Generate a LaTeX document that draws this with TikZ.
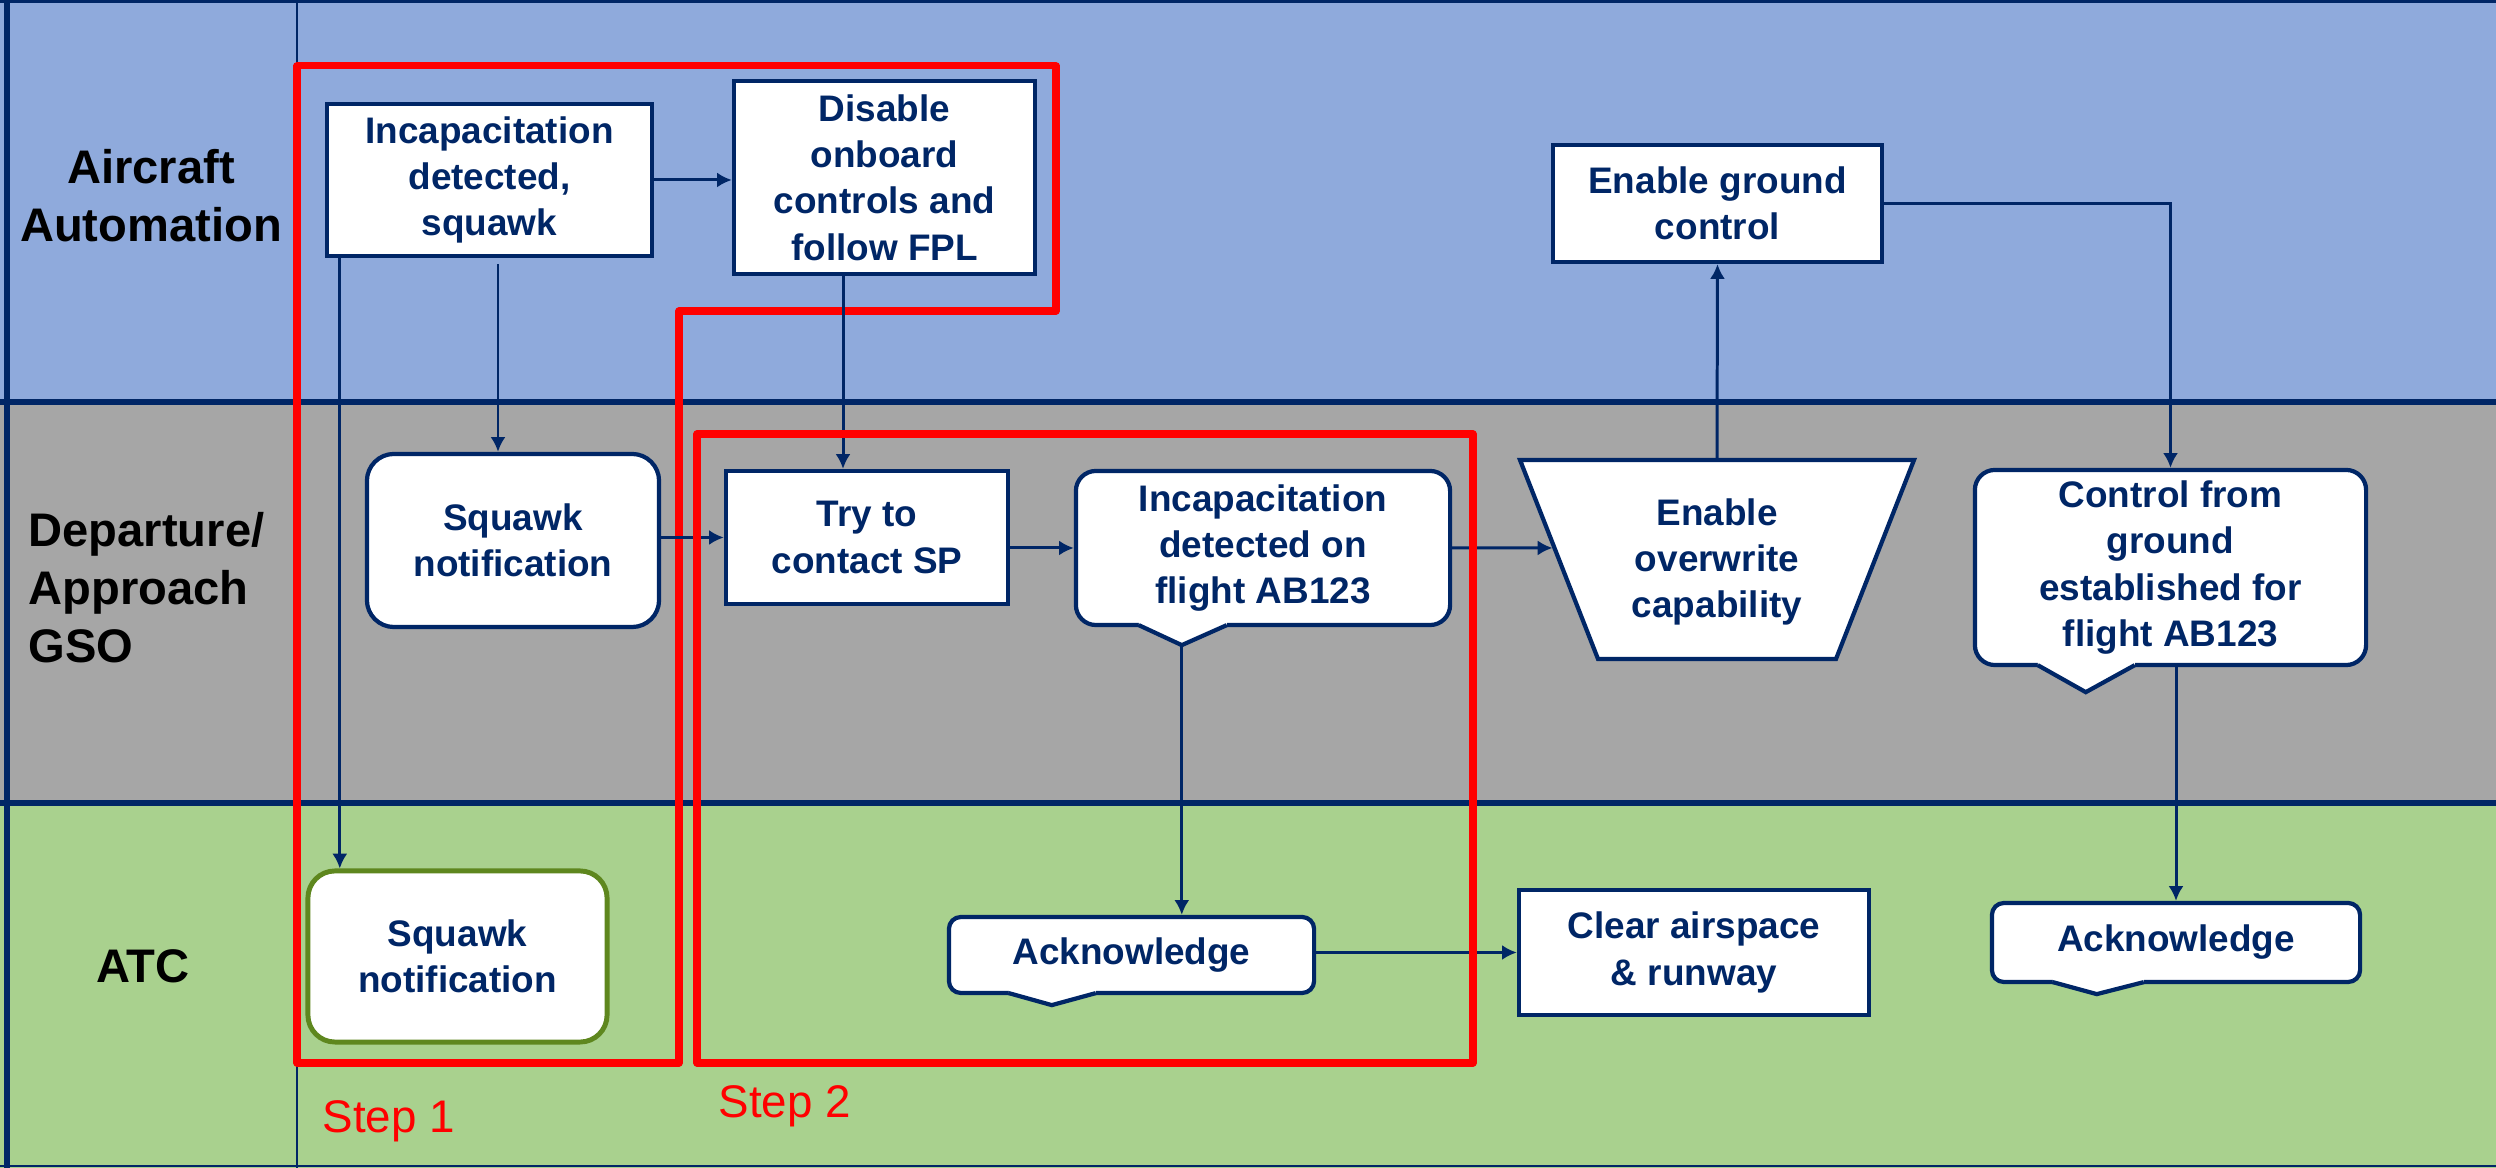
\documentclass[tikz,border=0pt]{standalone}
\usepackage{fontspec}
\setmainfont{Liberation Sans}
\usetikzlibrary{calc,arrows.meta}

\definecolor{navy}{RGB}{0,38,102}
\definecolor{laneblue}{RGB}{143,170,220}
\definecolor{lanegray}{RGB}{166,166,166}
\definecolor{lanegreen}{RGB}{169,209,142}
\definecolor{olivegreen}{RGB}{94,135,30}

\tikzset{
  lanesep/.style={draw=navy, line width=1.9pt},
  nodebox/.style={draw=navy, line width=1.2pt, fill=white, text=navy,
    font=\bfseries\fontsize{10.5}{13.2}\selectfont, align=center, inner sep=0pt},
  flow/.style={draw=navy, line width=0.85pt, -{Latex[length=4.2pt,width=4.3pt]}},
  stepline/.style={draw=red, line width=2pt, line join=round},
  lanelabel/.style={font=\bfseries\fontsize{13.4}{16.5}\selectfont, text=black, inner sep=0pt},
  steplabel/.style={font=\fontsize{13}{15}\selectfont, text=red, inner sep=0pt}
}

% pointer under a callout box: #1 node, #2/#3 base offsets from south west,
% #4 tip x offset, #5 tip depth
\newcommand{\drawpointer}[5]{%
  \fill[white] ($(#1.south west)+(#2,-6)$) -- ($(#1.south west)+(#2,-2)$)
    -- ($(#1.south west)+(#4,#5)$) -- ($(#1.south west)+(#3,-2)$)
    -- ($(#1.south west)+(#3,-6)$) -- cycle;
  \draw[navy, line width=1.2pt, line join=miter]
    ($(#1.south west)+(#2,-2)$) -- ($(#1.south west)+(#4,#5)$) coordinate (#1tip)
    -- ($(#1.south west)+(#3,-2)$);
}

\begin{document}
\begin{tikzpicture}[x=0.01cm, y=-0.01cm]
\useasboundingbox (0,0) rectangle (2496,1168);

% swimlanes
\fill[laneblue] (0,0) rectangle (2496,402);
\fill[lanegray] (0,402) rectangle (2496,803);
\fill[lanegreen] (0,803) rectangle (2496,1168);
\draw[lanesep] (0,402) -- (2496,402);
\draw[lanesep] (0,803) -- (2496,803);
\draw[navy, line width=0.9pt] (0,1.5) -- (2496,1.5);
\draw[navy, line width=1.6pt] (7,0) -- (7,1168);
\draw[navy, line width=0.6pt] (0,1166) -- (2496,1166);
\draw[navy, line width=0.7pt] (297,0) -- (297,1168);

% lane titles
\node[lanelabel, align=center] (L1) at (151,196) {Aircraft\\Automation};
\node[lanelabel, align=left, anchor=west] (L2) at (28,588) {Departure/\\Approach\\GSO};
\node[lanelabel] (L3) at (143,966) {ATC};

% step 1 outline
\draw[stepline] (297,66) -- (1056,66) -- (1056,311) -- (679,311) -- (679,1063) -- (297,1063) -- cycle;
\node[steplabel, anchor=base west] (s1) at (322,1133) {Step 1};
\node[steplabel, anchor=base west] (s2) at (718,1118) {Step 2};

% aircraft automation lane
\node[nodebox, minimum width=3.25cm, minimum height=1.52cm] (A) at (489.5,180) {Incapacitation\\detected,\\squawk};
\node[nodebox, minimum width=3.01cm, minimum height=1.93cm] (B) at (884.5,177.5) {Disable\\onboard\\controls and\\follow FPL};
\node[nodebox, minimum width=3.29cm, minimum height=1.17cm] (C) at (1717.5,203.5) {Enable ground\\control};

% departure/approach GSO lane
\node[nodebox, rounded corners=0.27cm, minimum width=2.92cm, minimum height=1.73cm] (SqG) at (513,540.5) {Squawk\\notification};
\node[nodebox, minimum width=2.82cm, minimum height=1.33cm] (Try) at (867,537.5) {Try to\\contact SP};
\node[nodebox, rounded corners=0.2cm, minimum width=3.74cm, minimum height=1.54cm] (D) at (1263,548) {Incapacitation\\detected on\\flight AB123};
\drawpointer{D}{65}{153}{108}{18}

\coordinate (Ec) at (1717,559.5);
\draw[navy, line width=1.2pt, fill=white, line join=miter]
  ($(Ec)+(-197,-99.5)$) coordinate (Etl) -- ($(Ec)+(197,-99.5)$) coordinate (Etr)
  -- ($(Ec)+(119,99.5)$) -- ($(Ec)+(-119,99.5)$) coordinate (Ebl) -- cycle;
\coordinate (Etop) at ($(Etl)!0.5!(Etr)+(0,-2)$);
\coordinate (Ein) at ($(Etl)!0.442!(Ebl)+(-2,0)$);
\node[nodebox, draw=none, fill=none] (E) at (1717,562) {Enable\\overwrite\\capability};

\node[nodebox, rounded corners=0.2cm, minimum width=3.91cm, minimum height=1.95cm] (F) at (2170.5,567.5) {Control from\\ground\\established for\\flight AB123};
\drawpointer{F}{65}{162}{113}{25}

% ATC lane
\node[nodebox, draw=olivegreen, line width=1.4pt, rounded corners=0.27cm, minimum width=2.99cm, minimum height=1.71cm] (SqA) at (457.5,956.5) {Squawk\\notification};
\node[nodebox, rounded corners=0.12cm, minimum width=3.65cm, minimum height=0.76cm] (Ack1) at (1131.5,955) {Acknowledge};
\drawpointer{Ack1}{62}{149}{105}{10}
\node[nodebox, minimum width=3.50cm, minimum height=1.25cm] (G) at (1694,952.5) {Clear airspace\\\& runway};
\node[nodebox, rounded corners=0.12cm, minimum width=3.68cm, minimum height=0.79cm] (Ack2) at (2176,942.5) {Acknowledge};
\drawpointer{Ack2}{63}{154}{107}{10}

% connectors
\draw[flow] (A.east) -- (A.east -| B.west);
\coordinate (a1) at ($(A.south west)+(15,0)$);
\draw[flow] (a1) -- (a1 |- SqA.north);
\coordinate (a2) at ($(A.south)+(8.5,6)$);
\draw[flow] (a2) -- (a2 |- SqG.north);
\coordinate (b1) at ($(B.south)+(-41.5,0)$);
\draw[flow] (b1) -- (b1 |- Try.north);
\draw[flow] (Try.west -| SqG.east) -- (Try.west);
\draw[flow] (D.west -| Try.east) -- (D.west);
\draw[flow] (D.east) -- (Ein);
\draw[flow] (Etop) -- (C.south);
\draw[flow] (C.east) -| (F.north);
\draw[flow] (Dtip) -- (Dtip |- Ack1.north);
\draw[flow] (G.west -| Ack1.east) -- (G.west);
\draw[flow] (Ack2.north |- F.south) -- (Ack2.north);

% step 2 outline
\draw[stepline] (697,434) rectangle (1473,1063);
\end{tikzpicture}
\end{document}
